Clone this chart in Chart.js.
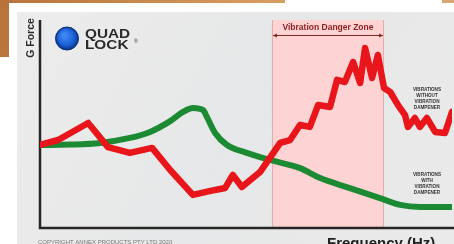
<!DOCTYPE html>
<html>
<head>
<meta charset="utf-8">
<script src="https://cdn.jsdelivr.net/npm/chart.js"></script>
<style>
  html, body { margin: 0; padding: 0; background: #fff; }
  #wrap { position: relative; width: 454px; height: 244px; }
</style>
</head>
<body>
<div id="wrap"><canvas id="vibrationChart"></canvas></div>
<script>
// Frequency (Hz, relative 0-100) and G force readings
const freqWithout = [0, 4.4, 11.7, 16.5, 21.8, 27.2, 31.6, 37.1, 42.5, 44.9, 46.8, 49.0, 53.4, 58.3, 60.7, 63.1,
    65.5, 67.5, 70.4, 72.1, 74.0, 76.0, 77.7, 78.9, 80.6, 82.0, 83.5, 85.0, 86.9, 88.6, 89.3, 91.0, 92.2, 93.9, 95.9, 98.3, 100];
const gWithout = [4.0, 4.23, 5.05, 3.89, 3.61, 3.85, 2.79, 1.59, 1.83, 1.92, 2.55, 1.97, 2.69, 4.09, 4.23, 4.95,
    4.86, 5.91, 5.82, 7.12, 7.02, 7.98, 6.97, 8.65, 7.21, 8.32, 6.73, 6.54, 5.91, 5.43, 4.86, 5.29, 4.86, 5.29, 4.62, 4.57, 5.58];

const freqWith = [0, 7.3, 14.6, 21.8, 26.7, 31.6, 34.7, 37.1, 39.6, 40.5, 42.5, 45.4, 50.2, 55.8, 63.1, 68.0, 75.2, 82.5, 87.4, 92.2, 100];
const gWith = [3.99, 4.01, 4.09, 4.33, 4.62, 5.14, 5.58, 5.77, 5.67, 5.34, 4.57, 3.99, 3.61, 3.27, 2.88, 2.40, 1.92, 1.44, 1.11, 1.01, 1.01];

// Danger zone bounds (Hz)
const dangerStart = 56.3;
const dangerEnd = 83.5;

const labelWithout = ['VIBRATIONS', 'WITHOUT', 'VIBRATION', 'DAMPENER'];
const labelWith = ['VIBRATIONS', 'WITH', 'VIBRATION', 'DAMPENER'];

const toPoints = (xs, ys) => xs.map((x, i) => ({ x: x, y: ys[i] }));

// background, frame, danger zone and logo
const backdropPlugin = {
    id: 'backdrop',
    beforeDatasetsDraw(chart) {
        const ctx = chart.ctx;
        const area = chart.chartArea;
        const xs = chart.scales.x;
        ctx.save();
        ctx.fillStyle = '#ffffff';
        ctx.fillRect(0, 0, chart.width, chart.height);

        // orange edges
        const orange = ctx.createLinearGradient(0, 0, 300, 60);
        orange.addColorStop(0, '#b8733a');
        orange.addColorStop(1, '#dca268');
        ctx.fillStyle = orange;
        ctx.fillRect(0, 0, 285, 3);
        ctx.fillRect(0, 0, 9, 57);
        ctx.fillStyle = '#d9a673';
        ctx.fillRect(442, 0, 12, 3);

        // grey panel
        const panel = ctx.createLinearGradient(17, 12, 454, 244);
        panel.addColorStop(0, '#ececec');
        panel.addColorStop(0.5, '#e6e7e8');
        panel.addColorStop(1, '#eaeaea');
        ctx.fillStyle = panel;
        ctx.fillRect(17, 12, chart.width - 17, chart.height - 12);

        // danger zone
        const x1 = xs.getPixelForValue(dangerStart);
        const x2 = xs.getPixelForValue(dangerEnd);
        ctx.fillStyle = '#fdd3d3';
        ctx.fillRect(x1, area.top, x2 - x1, area.bottom - area.top);
        ctx.strokeStyle = '#e9a9a9';
        ctx.lineWidth = 1;
        ctx.beginPath();
        ctx.moveTo(x1 + 0.5, area.top); ctx.lineTo(x1 + 0.5, area.bottom);
        ctx.moveTo(x2 - 0.5, area.top); ctx.lineTo(x2 - 0.5, area.bottom);
        ctx.stroke();

        // arrow under the title
        ctx.strokeStyle = '#7a2a2a';
        ctx.fillStyle = '#7a2a2a';
        ctx.beginPath();
        ctx.moveTo(x1 + 1, 35.5); ctx.lineTo(x2 - 1, 35.5);
        ctx.stroke();
        ctx.beginPath();
        ctx.moveTo(x1 + 1, 35.5); ctx.lineTo(x1 + 5, 33.5); ctx.lineTo(x1 + 5, 37.5); ctx.fill();
        ctx.beginPath();
        ctx.moveTo(x2 - 1, 35.5); ctx.lineTo(x2 - 5, 33.5); ctx.lineTo(x2 - 5, 37.5); ctx.fill();

        ctx.font = 'bold 8.5px "Liberation Sans", Arial, sans-serif';
        ctx.fillStyle = '#8c1f1f';
        ctx.textAlign = 'center';
        ctx.textBaseline = 'middle';
        ctx.fillText('Vibration Danger Zone', (x1 + x2) / 2, 28);

        // axes
        ctx.strokeStyle = '#262626';
        ctx.lineWidth = 2.5;
        ctx.beginPath();
        ctx.moveTo(area.left, area.top);
        ctx.lineTo(area.left, area.bottom);
        ctx.lineTo(chart.width, area.bottom);
        ctx.stroke();

        // logo
        const g = ctx.createRadialGradient(64, 35, 2, 67, 38, 11);
        g.addColorStop(0, '#3d86f0');
        g.addColorStop(0.7, '#1a5fd6');
        g.addColorStop(1, '#0c3b94');
        ctx.fillStyle = g;
        ctx.beginPath();
        ctx.arc(67, 38.5, 11.5, 0, Math.PI * 2);
        ctx.fill();
        ctx.strokeStyle = '#0b2f78';
        ctx.lineWidth = 1;
        ctx.stroke();

        ctx.save();
        ctx.translate(85, 0);
        ctx.scale(1.18, 1);
        ctx.fillStyle = '#2a2a2a';
        ctx.textAlign = 'left';
        ctx.textBaseline = 'alphabetic';
        ctx.font = 'bold 13px "Liberation Sans", Arial, sans-serif';
        ctx.fillText('QUAD', 0, 37.5);
        ctx.fillText('LOCK', 0, 49);
        ctx.restore();
        ctx.font = '5px "Liberation Sans", Arial, sans-serif';
        ctx.fillStyle = '#2a2a2a';
        ctx.textAlign = 'left';
        ctx.fillText('®', 134, 42);

        // G Force
        ctx.save();
        ctx.translate(31.5, 38);
        ctx.rotate(-Math.PI / 2);
        ctx.textAlign = 'center';
        ctx.textBaseline = 'middle';
        ctx.font = 'bold 10.5px "Liberation Sans", Arial, sans-serif';
        ctx.fillStyle = '#2a2a2a';
        ctx.fillText('G Force', 0, 0);
        ctx.restore();

        // side labels
        ctx.font = 'bold 4.6px "Liberation Sans", Arial, sans-serif';
        ctx.fillStyle = '#333333';
        ctx.textAlign = 'center';
        ctx.textBaseline = 'middle';
        labelWithout.forEach((t, i) => ctx.fillText(t, 427, 90 + i * 5.8));
        labelWith.forEach((t, i) => ctx.fillText(t, 427, 175 + i * 5.8));

        // footer
        ctx.font = '6px "Liberation Sans", Arial, sans-serif';
        ctx.fillStyle = '#7a7a7a';
        ctx.textAlign = 'left';
        ctx.fillText('COPYRIGHT ANNEX PRODUCTS PTY LTD 2020', 38, 242);

        ctx.font = 'bold 15px "Liberation Sans", Arial, sans-serif';
        ctx.fillStyle = '#222222';
        ctx.textBaseline = 'alphabetic';
        ctx.fillText('Frequency (Hz)', 327, 248);
        ctx.restore();
    }
};

new Chart(document.getElementById('vibrationChart'), {
    type: 'line',
    data: {
        datasets: [{
            label: 'Vibrations with vibration dampener',
            data: toPoints(freqWith, gWith),
            borderColor: '#1c8a33',
            borderWidth: 6,
            cubicInterpolationMode: 'monotone',
            pointRadius: 0,
            borderCapStyle: 'round',
            order: 2
        }, {
            label: 'Vibrations without vibration dampener',
            data: toPoints(freqWithout, gWithout),
            borderColor: '#e8161b',
            borderWidth: 6.5,
            tension: 0,
            pointRadius: 0,
            borderCapStyle: 'round',
            borderJoinStyle: 'round',
            order: 1
        }]
    },
    options: {
        responsive: true,
        maintainAspectRatio: false,
        animation: false,
        layout: { padding: { left: 40, right: 2, top: 20, bottom: 16 } },
        plugins: {
            legend: { display: false },
            tooltip: { enabled: false }
        },
        scales: {
            x: { type: 'linear', min: 0, max: 100, display: false },
            y: { min: 0, max: 10, display: false }
        }
    },
    plugins: [backdropPlugin]
});
</script>
</body>
</html>
